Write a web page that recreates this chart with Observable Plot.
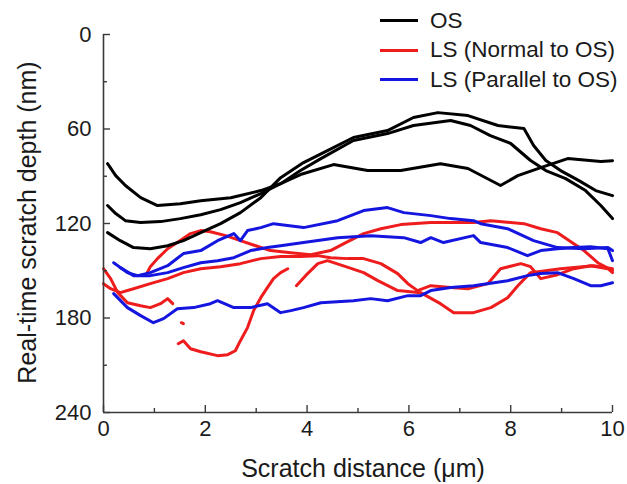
<!DOCTYPE html>
<html><head><meta charset="utf-8">
<script src="https://cdn.jsdelivr.net/npm/d3@7"></script>
<script src="https://cdn.jsdelivr.net/npm/@observablehq/plot@0.6"></script>
<style>
body{margin:0;background:#fff;font-family:"Liberation Sans",Arial,sans-serif;}
#wrap{position:relative;width:627px;height:484px;}
#legend{position:absolute;left:380px;top:6px;font-size:22.5px;color:#1a1a1a;}
.row{display:flex;align-items:center;height:29.5px;white-space:nowrap;}
.sw{width:38px;height:3px;margin-right:12px;}
</style></head><body>
<div id="wrap"><div id="chart"></div><div id="legend"></div></div>
<script>
// ---- data (x: scratch distance µm, y: depth nm) ----
const os1 = [[0.08,82.0],[0.24,89.6],[0.43,95.9],[0.73,103.6],[1.06,108.6],[1.51,107.4],[1.91,105.5],[2.50,103.6],[3.09,99.1],[3.48,94.7],[3.87,88.9],[4.52,82.6],[5.19,86.4],[5.84,86.4],[6.62,82.0],[7.16,85.1],[7.80,95.9],[8.14,89.6],[8.59,84.5],[9.12,78.8],[9.77,80.7],[10.0,80.1]];
const os2 = [[0.08,108.6],[0.24,113.7],[0.43,118.2],[0.73,119.4],[1.12,118.8],[1.51,116.9],[1.91,114.4],[2.30,111.2],[2.69,106.7],[3.09,101.0],[3.48,94.7],[3.87,86.4],[4.27,78.8],[4.91,67.3],[5.58,62.9],[6.09,57.8],[6.82,54.6],[7.21,57.8],[7.60,64.2],[8.00,69.2],[8.39,80.0],[8.69,86.4],[9.08,91.5],[9.47,99.1],[9.77,108.6],[10.0,116.9]];
const os3 = [[0.08,125.8],[0.33,130.9],[0.59,135.3],[0.92,136.0],[1.26,134.1],[1.57,130.9],[1.91,125.8],[2.30,120.1],[2.69,113.1],[3.09,103.6],[3.48,90.9],[3.93,81.3],[4.40,73.7],[4.91,65.4],[5.58,61.0],[6.09,52.7],[6.57,49.6],[7.16,51.5],[7.75,57.8],[8.26,59.7],[8.45,70.5],[8.69,80.0],[8.98,86.4],[9.34,92.8],[9.67,99.1],[10.0,102.3]];

const lsNormal1 = [[0.86,151.2],[0.92,147.4],[1.06,142.3],[1.26,136.0],[1.45,132.1],[1.71,126.4],[1.91,124.5],[2.10,125.2],[2.40,127.7],[2.69,130.9],[2.99,134.1],[3.28,137.2],[3.68,138.5],[4.07,139.8],[4.46,137.2],[4.76,132.1],[5.11,126.4],[5.45,123.3],[5.84,120.7],[6.43,119.4],[7.27,119.4],[7.61,118.2],[8.26,120.1],[8.59,123.3],[8.92,125.8],[9.24,132.8],[9.44,137.2],[9.71,144.9],[10.0,149.9]];
const lsNormal2 = [[0.00,158.2],[0.14,161.4],[0.33,163.9],[0.59,161.4],[0.92,158.2],[1.26,155.0],[1.57,151.2],[1.91,148.7],[2.30,147.4],[2.69,145.5],[3.09,142.3],[3.48,141.0],[3.87,141.0],[4.21,140.4],[4.46,141.7],[4.80,142.3],[5.11,142.3],[5.45,145.5],[5.78,151.8],[5.98,158.2],[6.17,162.6],[6.43,159.5],[6.82,160.7],[7.16,161.4],[7.55,158.2],[7.80,148.7],[8.20,145.5],[8.39,147.4],[8.59,155.0],[8.92,152.5],[9.24,148.7],[9.57,146.8],[9.91,148.7],[10.0,151.2]];
const lsNormal3 = [[0.00,148.7],[0.14,155.0],[0.28,163.9],[0.47,170.3],[0.73,172.2],[0.92,173.4],[1.12,170.9],[1.26,167.7],[1.36,170.9]];
const lsNormal4a = [[1.47,196.3],[1.57,194.4],[1.71,199.5],[1.91,201.4],[2.24,203.9],[2.44,203.3],[2.59,200.8],[2.69,194.4],[2.83,186.1],[2.95,175.3],[3.09,167.1],[3.22,160.7],[3.34,155.0],[3.48,151.2],[3.62,148.7]];
const lsNormal4b = [[3.79,159.5],[4.01,151.8],[4.21,145.5],[4.40,143.6],[4.76,147.4],[5.11,151.2],[5.39,156.3],[5.78,162.6],[6.23,163.9],[6.62,170.9],[6.88,176.6],[7.27,176.6],[7.61,173.4],[7.94,167.1],[8.14,159.5],[8.39,151.2],[8.98,148.7],[9.63,146.8],[10.0,148.7]];
const lsNormalDot = [[1.53,183.0],[1.57,183.6]];

const lsParallel1 = [[0.20,144.9],[0.47,151.2],[0.67,153.1],[0.92,151.2],[1.26,146.8],[1.57,139.1],[1.91,137.2],[2.24,130.9],[2.56,126.4],[2.69,130.9],[2.83,124.5],[3.09,122.6],[3.34,120.1],[3.93,122.6],[4.60,118.2],[5.11,111.8],[5.58,109.9],[5.90,113.1],[6.43,115.0],[6.82,116.9],[7.27,118.2],[7.41,120.1],[7.94,123.3],[8.45,130.9],[8.92,135.3],[9.44,136.0],[9.91,135.3],[10.0,137.2]];
const lsParallel2 = [[0.33,148.0],[0.59,153.1],[0.92,153.1],[1.26,151.2],[1.57,148.0],[1.91,144.9],[2.24,143.6],[2.56,141.7],[2.89,137.2],[3.22,135.3],[3.48,134.1],[3.93,132.1],[4.60,129.0],[5.25,127.7],[5.90,129.0],[6.23,132.1],[6.43,129.0],[6.68,132.1],[7.27,127.7],[7.41,132.1],[7.94,135.3],[8.33,140.4],[8.59,137.2],[8.92,136.0],[9.24,135.3],[9.57,134.7],[9.91,136.0],[10.0,143.6]];
const lsParallel3 = [[0.20,164.5],[0.47,173.4],[0.73,178.5],[0.98,183.0],[1.18,180.4],[1.45,174.1],[1.77,173.4],[2.10,170.9],[2.24,169.0],[2.56,173.4],[2.89,173.4],[3.22,170.9],[3.48,176.6],[3.68,175.3],[3.93,173.4],[4.27,170.3],[4.91,169.0],[5.25,167.7],[5.58,169.0],[5.98,165.8],[6.23,165.8],[6.43,162.6],[6.82,160.7],[7.27,159.5],[7.94,156.3],[8.33,153.1],[8.59,151.8],[8.92,151.2],[9.24,155.0],[9.57,159.5],[9.77,159.5],[10.0,157.6]];

const seriesNames = ["OS", "LS (Normal to OS)", "LS (Parallel to OS)"];
const seriesColors = ["#000000", "#ee1c1c", "#1515e0"];
const xMajor = [0, 2, 4, 6, 8, 10];
const xMinor = [1, 3, 5, 7, 9];
const yMajor = [0, 60, 120, 180, 240];
const yMinor = [30, 90, 150, 210];
const xLabel = "Scratch distance (\u03bcm)";
const yLabel = "Real-time scratch depth (nm)";

// ---- build table ----
const groups = [
  [0, [os1, os2, os3]],
  [1, [lsNormal1, lsNormal2, lsNormal3, lsNormal4a, lsNormal4b, lsNormalDot]],
  [2, [lsParallel1, lsParallel2, lsParallel3]]
];
const rows = [];
groups.forEach(([g, lines]) => lines.forEach((ln, i) => ln.forEach(([x, y]) =>
  rows.push({series: seriesNames[g], id: g + "-" + i, x, y}))));

const W = 627, H = 484, mT = 34, mB = 72, mL = 103, mR = 15;
const plotH = H - mT - mB, plotW = W - mL - mR;
const axisColor = "#3a3a3a";

const lineMark = (g) => Plot.line(rows.filter(r => r.series === seriesNames[g]),
  {x: "x", y: "y", z: "id", stroke: seriesColors[g], strokeWidth: 3, strokeLinejoin: "round", strokeLinecap: "round"});

const chart = Plot.plot({
  width: W, height: H,
  marginTop: mT, marginBottom: mB, marginLeft: mL, marginRight: mR,
  style: {fontFamily: "'Liberation Sans', Arial, sans-serif", fontSize: "22px", color: "#1a1a1a", background: "#fff"},
  x: {domain: [0, 10]},
  y: {domain: [0, 240], reverse: true},
  marks: [
    lineMark(1),
    lineMark(2),
    lineMark(0),
    Plot.ruleX([0], {stroke: axisColor, strokeWidth: 1.6}),
    Plot.ruleY([240], {stroke: axisColor, strokeWidth: 1.6}),
    Plot.ruleX(xMajor, {x: d => d, stroke: axisColor, strokeWidth: 1.4, insetTop: plotH - 7}),
    Plot.ruleX(xMinor, {x: d => d, stroke: axisColor, strokeWidth: 1.4, insetTop: plotH - 4}),
    Plot.ruleY(yMajor, {y: d => d, stroke: axisColor, strokeWidth: 1.4, insetRight: plotW - 7}),
    Plot.ruleY(yMinor, {y: d => d, stroke: axisColor, strokeWidth: 1.4, insetRight: plotW - 4}),
    Plot.axisX({ticks: xMajor, tickSize: 0, tickPadding: 8, label: null, fontSize: 22, tickFormat: d => String(d)}),
    Plot.axisY({ticks: yMajor, tickSize: 0, tickPadding: 12, label: null, fontSize: 22, tickFormat: d => String(d)}),
    Plot.text([xLabel], {frameAnchor: "bottom", textAnchor: "middle", lineAnchor: "middle", dx: 5, dy: 56, fontSize: 25, fill: "#1a1a1a"}),
    Plot.text([yLabel], {frameAnchor: "left", textAnchor: "middle", lineAnchor: "middle", rotate: -90, dx: -76, dy: -1, fontSize: 25, fill: "#1a1a1a"})
  ]
});
document.getElementById("chart").appendChild(chart);

const legend = document.getElementById("legend");
seriesNames.forEach((name, i) => {
  const row = document.createElement("div");
  row.className = "row";
  const sw = document.createElement("span");
  sw.className = "sw";
  sw.style.background = seriesColors[i];
  const t = document.createElement("span");
  t.textContent = name;
  row.appendChild(sw); row.appendChild(t);
  legend.appendChild(row);
});
</script></body></html>
